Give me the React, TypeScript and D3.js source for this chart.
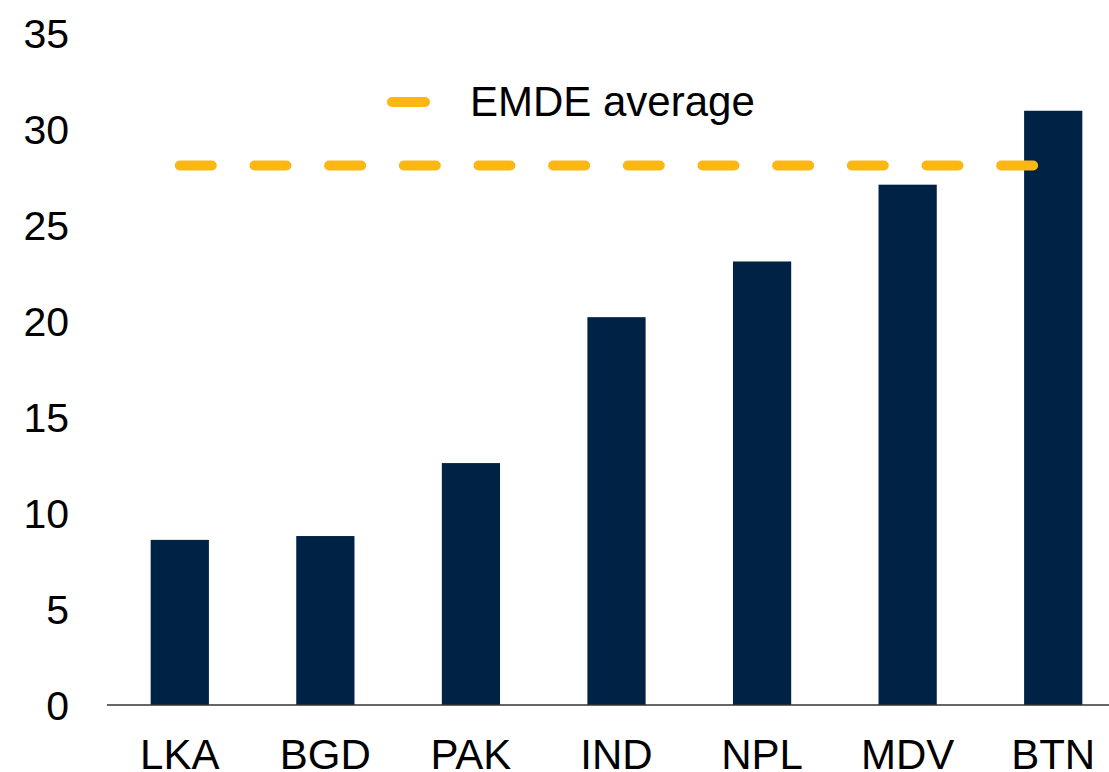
import React from "react";
import * as d3 from "d3";

const categories = ["LKA", "BGD", "PAK", "IND", "NPL", "MDV", "BTN"];
const values = [8.6, 8.8, 12.6, 20.2, 23.1, 27.1, 30.95];
const emdeAverage = 28.1;
const yTicks = [0, 5, 10, 15, 20, 25, 30, 35];
const legendLabel = "EMDE average";

const W = 1109;
const H = 772;
const FONT = "Arial, 'Liberation Sans', sans-serif";
const BAR = "#002345";
const GOLD = "#FDB714";

export default function App() {
  const x = d3.scaleBand<string>().domain(categories).range([107, 1126]).paddingInner(0.6).paddingOuter(0.3);
  const y = d3.scaleLinear().domain([0, 35]).range([705, 33]);
  const bw = x.bandwidth();
  const first = (x(categories[0]) as number) + bw / 2;
  const last = (x(categories[categories.length - 1]) as number) + bw / 2;

  return (
    <svg width={W} height={H} style={{ position: "absolute", left: 0, top: 0, background: "#fff" }} fontFamily={FONT}>
      {yTicks.map((t) => (
        <text key={t} x={69} y={y(t) + 14.5} textAnchor="end" fontSize={41} fill="#000">
          {t}
        </text>
      ))}
      {categories.map((c, i) => (
        <rect key={c} x={x(c)} y={y(values[i])} width={bw} height={y(0) - y(values[i])} fill={BAR} />
      ))}
      <line x1={107} x2={W} y1={y(0)} y2={y(0)} stroke="#333" strokeWidth={1.5} />
      {categories.map((c) => (
        <text key={c} x={(x(c) as number) + bw / 2} y={769} textAnchor="middle" fontSize={42} fill="#000">
          {c}
        </text>
      ))}
      <line
        x1={first}
        x2={last}
        y1={y(emdeAverage)}
        y2={y(emdeAverage)}
        stroke={GOLD}
        strokeWidth={10}
        strokeLinecap="round"
        strokeDasharray="32 42.67"
      />
      <line x1={392} x2={425} y1={102} y2={102} stroke={GOLD} strokeWidth={10} strokeLinecap="round" />
      <text x={470} y={116} fontSize={42} fill="#000">
        {legendLabel}
      </text>
    </svg>
  );
}
